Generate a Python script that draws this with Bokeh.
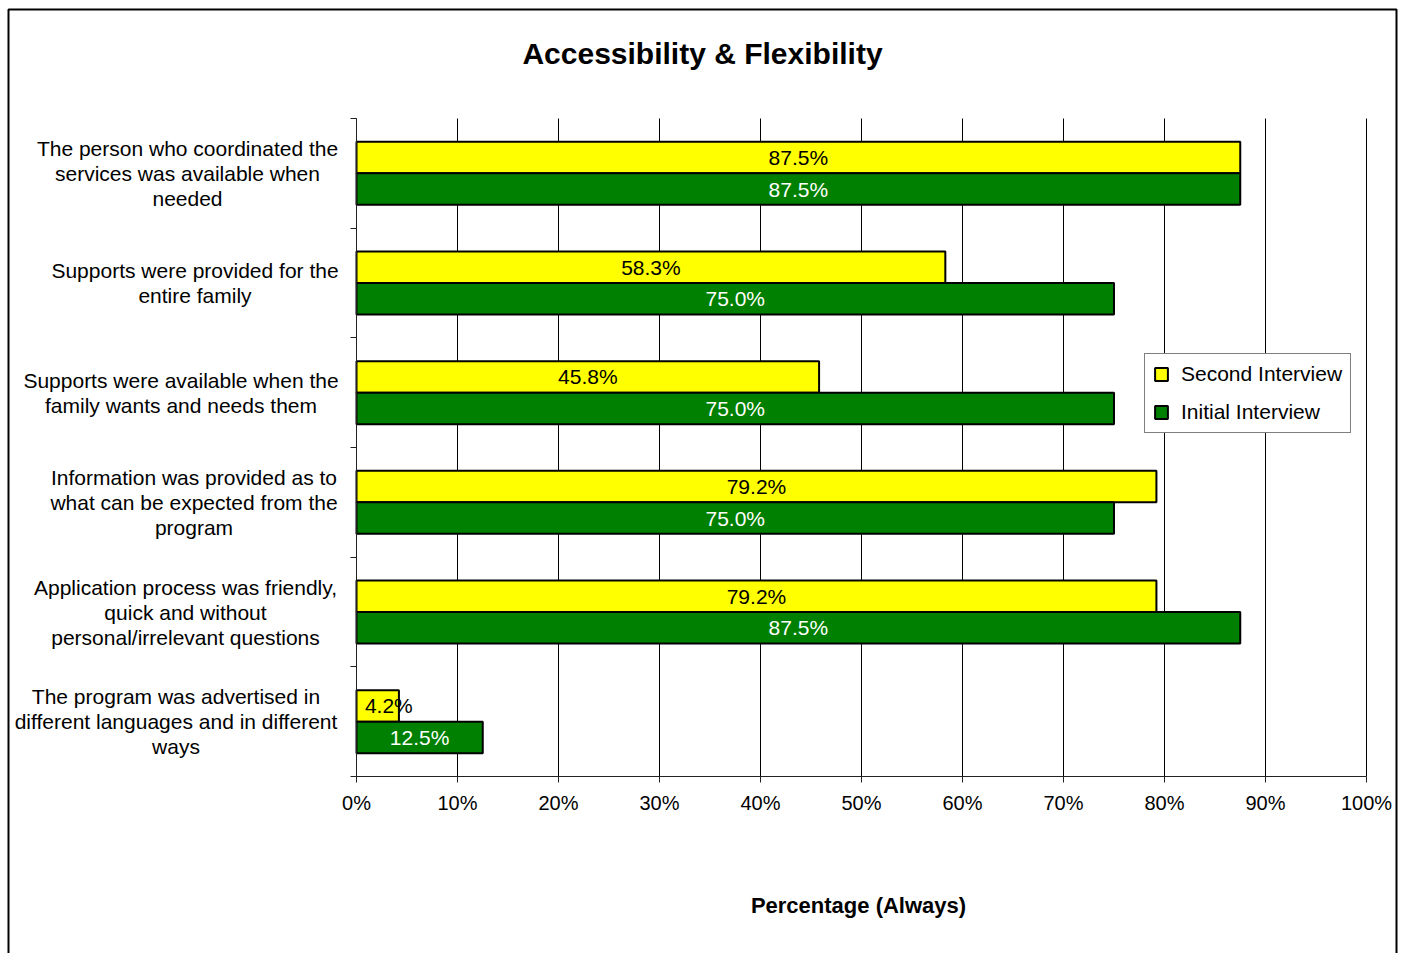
from bokeh.plotting import figure
from bokeh.models import (Range1d, FixedTicker, Legend, LegendItem,
                          BoxAnnotation, ColumnDataSource, PrintfTickFormatter)
from bokeh.core.properties import value
from bokeh.embed import file_html
from bokeh.resources import INLINE

# ---- data -------------------------------------------------------------
categories = [
    "The person who coordinated the\nservices was available when\nneeded",
    "Supports were provided for the\nentire family",
    "Supports were available when the\nfamily wants and needs them",
    "Information was provided as to\nwhat can be expected from the\nprogram",
    "Application process was friendly,\nquick and without\npersonal/irrelevant questions",
    "The program was advertised in\ndifferent languages and in different\nways",
]
second_interview = [87.5, 58.3, 45.8, 79.2, 79.2, 4.2]
initial_interview = [87.5, 75.0, 75.0, 75.0, 87.5, 12.5]
x_ticks = [0, 10, 20, 30, 40, 50, 60, 70, 80, 90, 100]

FONT = "Liberation Sans"
YELLOW = "#FFFF00"
GREEN = "#008000"

# ---- geometry: the frame fills the canvas, the plot area sits inside ---
W, H = 1403, 953
PL, PR, PT, PB = 356, 1366, 118, 776     # plot area edges in px
n = len(categories)
XPX = (PR - PL) / 100.0                  # px per percent
YPX = (PB - PT) / n                      # px per category band


def dx(px):
    return (px - PL) / XPX


def dy(py):
    return (py - PT) / YPX


p = figure(width=W, height=H,
           x_range=Range1d(dx(0), dx(W)), y_range=Range1d(dy(H), dy(0)),
           output_backend="svg", toolbar_location=None, min_border=0)
p.outline_line_color = None
p.background_fill_color = "white"
p.border_fill_color = "white"
p.xgrid.visible = False
p.ygrid.visible = False

# ---- vertical gridlines ---------------------------------------------------
p.segment(x0=x_ticks, y0=[0] * len(x_ticks), x1=x_ticks, y1=[n] * len(x_ticks),
          line_color="black", line_width=1)

# ---- bars ---------------------------------------------------------------
bar_h = 0.2875
idx = list(range(n))
y_second = [i + 0.5 - bar_h / 2 for i in idx]
y_initial = [i + 0.5 + bar_h / 2 for i in idx]

src_second = ColumnDataSource(dict(
    y=y_second, v=second_interview,
    tx=[max(v / 2, 3.2) for v in second_interview],
    label=[f"{v:.1f}%" for v in second_interview]))
src_initial = ColumnDataSource(dict(
    y=y_initial, v=initial_interview,
    tx=[max(v / 2, 3.2) for v in initial_interview],
    label=[f"{v:.1f}%" for v in initial_interview]))

r_sec = p.hbar(y="y", left=0, right="v", height=bar_h, source=src_second,
               fill_color=YELLOW, line_color="black", line_width=2)
r_ini = p.hbar(y="y", left=0, right="v", height=bar_h, source=src_initial,
               fill_color=GREEN, line_color="black", line_width=2)

p.text(x="tx", y="y", text="label", source=src_second,
       text_align="center", text_baseline="middle",
       text_font=value(FONT), text_font_size="21px", text_color="black")
p.text(x="tx", y="y", text="label", source=src_initial,
       text_align="center", text_baseline="middle",
       text_font=value(FONT), text_font_size="21px", text_color="white")

# ---- axes pinned to the plot-area edges -----------------------------------
p.xaxis.fixed_location = n
p.xaxis.bounds = (0, 100)
p.xaxis.ticker = FixedTicker(ticks=x_ticks)
p.xaxis.formatter = PrintfTickFormatter(format="%d%%")
p.xaxis.major_tick_out = 6
p.xaxis.major_tick_in = 0
p.xaxis.minor_tick_line_color = None
p.xaxis.axis_line_color = "#222222"
p.xaxis.major_tick_line_color = "#222222"
p.xaxis.major_label_text_font = FONT
p.xaxis.major_label_text_font_size = "20px"
p.xaxis.major_label_text_color = "black"
p.xaxis.major_label_standoff = 9

y_ticks = list(range(n + 1))
p.yaxis.fixed_location = 0
p.yaxis.bounds = (0, n)
p.yaxis.ticker = FixedTicker(ticks=y_ticks)
p.yaxis.major_label_overrides = {t: "" for t in y_ticks}
p.yaxis.major_tick_out = 6
p.yaxis.major_tick_in = 0
p.yaxis.minor_tick_line_color = None
p.yaxis.axis_line_color = "#222222"
p.yaxis.major_tick_line_color = "#222222"

# ---- category labels (centred multi-line blocks) ------------------------
label_centres = [187, 194.5, 180.5, 193.5, 185, 175.5]
line_step = 25 / YPX
cat_x, cat_y, cat_t = [], [], []
for i, (cat, c) in enumerate(zip(categories, label_centres)):
    lines = cat.split("\n")
    m = len(lines)
    for k, line in enumerate(lines):
        cat_x.append(dx(c))
        cat_y.append(i + 0.5 + (k - (m - 1) / 2) * line_step)
        cat_t.append(line)
p.text(x=cat_x, y=cat_y, text=cat_t, text_align="center", text_baseline="middle",
       text_font=value(FONT), text_font_size="21px", text_color="black")

# ---- title and axis title -------------------------------------------------
p.text(x=[dx(702)], y=[dy(53)], text=["Accessibility & Flexibility"],
       text_align="center", text_baseline="middle",
       text_font=value(FONT), text_font_size="30px",
       text_font_style="bold", text_color="black")
p.text(x=[dx(858)], y=[dy(905)], text=["Percentage (Always)"],
       text_align="center", text_baseline="middle",
       text_font=value(FONT), text_font_size="22px",
       text_font_style="bold", text_color="black")

# ---- legend -------------------------------------------------------------
legend = Legend(items=[LegendItem(label="Second Interview", renderers=[r_sec]),
                       LegendItem(label="Initial Interview", renderers=[r_ini])],
                location=(1144, H - 433), orientation="vertical",
                border_line_color="black", border_line_width=1,
                background_fill_color="white", background_fill_alpha=1,
                padding=8, spacing=14, margin=0,
                glyph_width=16, glyph_height=16, label_height=20,
                label_standoff=12,
                label_text_font=FONT, label_text_font_size="21px",
                label_text_color="black")
p.add_layout(legend)

# ---- chart-area border ---------------------------------------------------
p.add_layout(BoxAnnotation(left=dx(8), right=dx(1396), top=dy(9), bottom=dy(H + 20),
                           fill_alpha=0, line_color="black", line_alpha=1,
                           line_width=2))

open("out.html", "w").write(file_html(p, INLINE))
